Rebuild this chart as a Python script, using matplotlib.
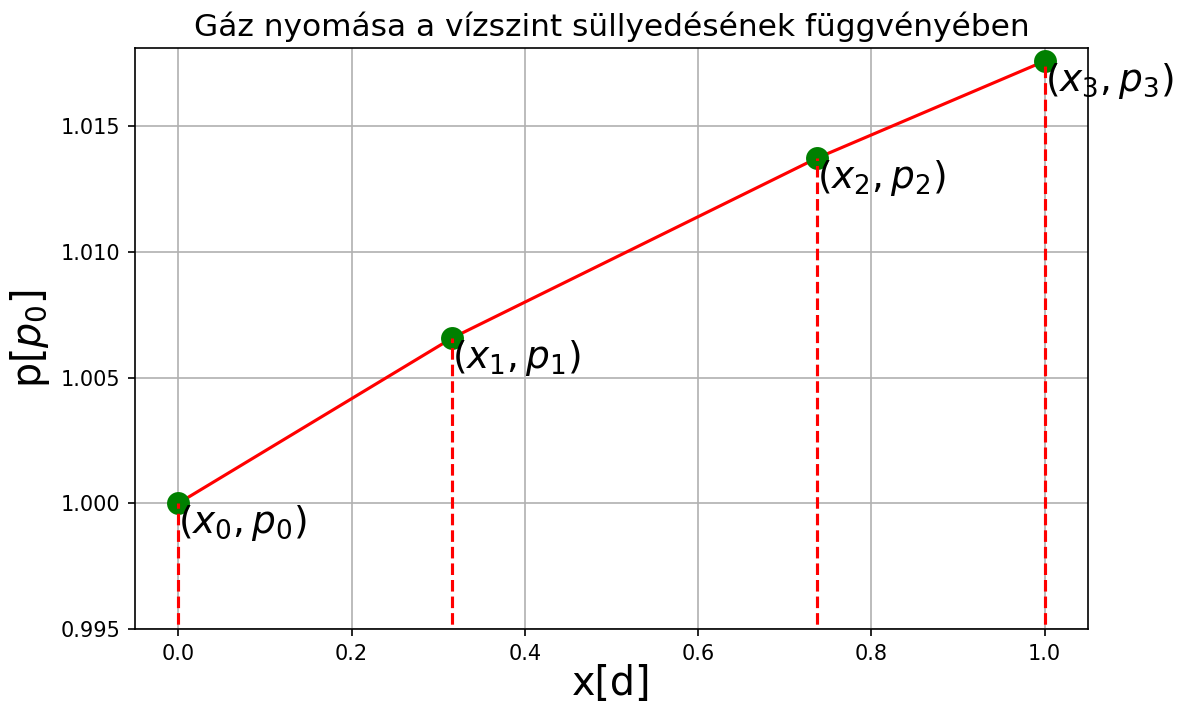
import matplotlib
matplotlib.use("Agg")
import matplotlib.pyplot as plt

# points: level drop x [d] and gas pressure p [p0]
x_values = [0.0, 0.316, 0.737, 1.0]
p_values = [1.0, 1.00657, 1.01372, 1.01758]
point_labels = ["$(x_0, p_0)$", "$(x_1, p_1)$", "$(x_2, p_2)$", "$(x_3, p_3)$"]

fig, ax = plt.subplots(figsize=(1183 / 150, 706 / 150), dpi=150)
fig.subplots_adjust(left=0.1141, right=0.9197, top=0.932, bottom=0.109)

ax.plot(x_values, p_values, color="red", zorder=2)
ax.plot(x_values, p_values, "o", color="green", markersize=10, zorder=3)
ax.vlines(x_values, 0.99, p_values, colors="red", linestyles="dashed", zorder=4)

for x, p, label in zip(x_values, p_values, point_labels):
    ax.text(x, p, label, fontsize=18, ha="left", va="top", zorder=5)

ax.set_xlim(-0.05, 1.05)
ax.set_ylim(0.995, 1.0181)
ax.grid(True)
ax.set_title("Gáz nyomása a vízszint süllyedésének függvényében", fontsize=15)
ax.set_xlabel("x[d]", fontsize=19, labelpad=0)
ax.set_ylabel("p[$p_0$]", fontsize=19)

fig.savefig("out.png", dpi=150)
